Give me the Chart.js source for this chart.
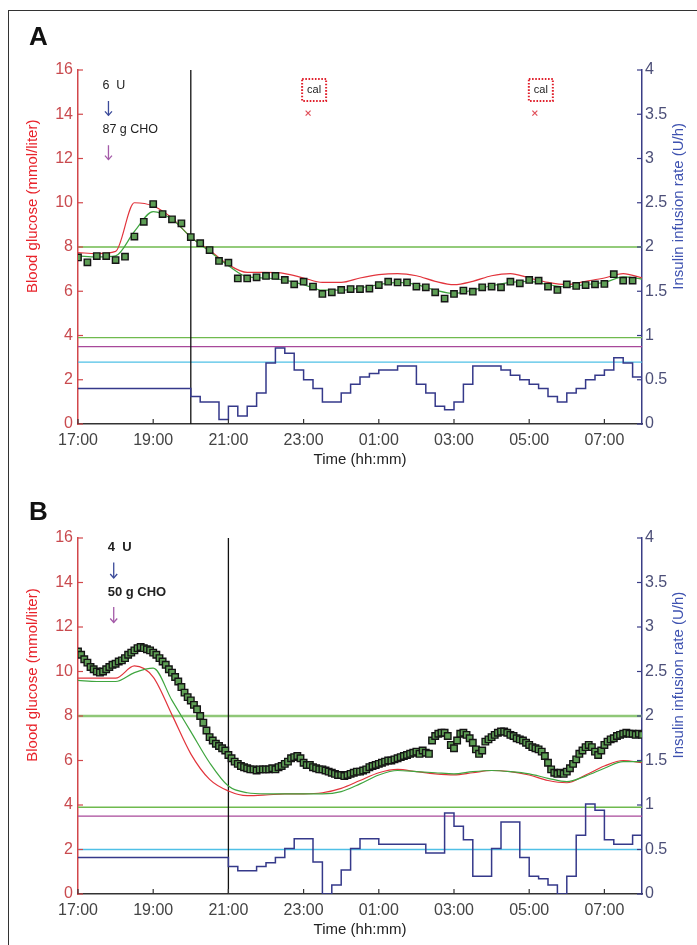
<!DOCTYPE html>
<html>
<head>
<meta charset="utf-8">
<title>Closed-loop overnight glucose</title>
<script src="https://cdn.jsdelivr.net/npm/chart.js@4.4.1/dist/chart.umd.min.js"></script>
<style>
  html, body { margin: 0; padding: 0; background: #fff; }
  body { width: 697px; height: 945px; position: relative; overflow: hidden; font-family: "Liberation Sans", Arial, sans-serif; }
  .frame { position: absolute; left: 8px; top: 10px; right: -4px; bottom: -4px; border-top: 1.5px solid #333; border-left: 1.5px solid #333; }
  .panel { position: absolute; left: 0; width: 697px; height: 475px; }
  .tag { position: absolute; left: 29px; font: bold 26px/1 "Liberation Sans", Arial, sans-serif; color: #111; }
</style>
</head>
<body>
<div class="frame"></div>
<div class="panel" style="top:0"><canvas id="chartA" width="697" height="475"></canvas></div>
<div class="panel" style="top:470px"><canvas id="chartB" width="697" height="475"></canvas></div>
<div class="tag" style="top:23px">A</div>
<div class="tag" style="top:498px">B</div>

<script>
// time is in hours from midnight of day 1 (25 = 01:00 next day)
const HOUR_START = 17, HOUR_END = 32;
const xTickHours = [17, 19, 21, 23, 25, 27, 29, 31];

// reference lines on glucose axis (mmol/l): target upper, target lower, hypo
const glucoseRefs = [8, 3.9, 3.5];
const CAL_MARK_Y = 14.05;

// ---- panel A ----
// sensor glucose, every 15 min from 17:00
const sensorA = [7.53, 7.31, 7.59, 7.59, 7.41, 7.56, 8.47, 9.14, 9.94, 9.49, 9.25, 9.07,
  8.45, 8.17, 7.86, 7.37, 7.29, 6.58, 6.58, 6.63, 6.69, 6.69, 6.51, 6.31,
  6.43, 6.21, 5.88, 5.95, 6.06, 6.10, 6.10, 6.12, 6.28, 6.43, 6.40, 6.40,
  6.21, 6.18, 5.95, 5.67, 5.88, 6.03, 5.98, 6.18, 6.21, 6.18, 6.43, 6.36,
  6.51, 6.48, 6.21, 6.06, 6.31, 6.24, 6.28, 6.31, 6.33, 6.77, 6.48, 6.48];
// model traces, every 30 min from 17:00
const redA = [7.75, 7.7, 7.8, 10.0, 9.85, 9.3, 8.45, 7.85, 7.2, 6.85, 6.85, 6.8, 6.6, 6.4, 6.4, 6.6,
  6.75, 6.8, 6.7, 6.45, 6.3, 6.45, 6.7, 6.8, 6.6, 6.4, 6.3, 6.45, 6.6, 6.8, 6.6];
const greenA = [7.6, 7.55, 7.6, 8.7, 9.6, 9.25, 8.45, 7.8, 7.15, 6.65, 6.6, 6.5, 6.3, 6.05, 6.05, 6.15,
  6.3, 6.4, 6.3, 6.05, 5.9, 6.05, 6.25, 6.4, 6.45, 6.3, 6.2, 6.3, 6.4, 6.65, 6.55];
// insulin (U/h): basal before loop start, then every 15 min
const basalA = 0.4;
const loopStartA = 20;
const insulinA = [0.31, 0.25, 0.25, 0.05, 0.20, 0.09, 0.20, 0.35, 0.69, 0.86, 0.80, 0.61,
  0.50, 0.40, 0.25, 0.25, 0.35, 0.45, 0.53, 0.57, 0.61, 0.61, 0.655, 0.655,
  0.45, 0.35, 0.20, 0.16, 0.25, 0.45, 0.655, 0.655, 0.655, 0.61, 0.55, 0.50,
  0.45, 0.40, 0.31, 0.25, 0.35, 0.40, 0.50, 0.55, 0.61, 0.75, 0.69, 0.53];
const insulinRefA = 0.7;
const calTimesA = [23.12, 29.15];

// ---- panel B ----
// sensor glucose, every 5 min from 17:00
const sensorB = [
  10.9, 10.75, 10.55, 10.4, 10.2, 10.1, 10.0, 9.95, 10.0, 10.1, 10.2, 10.3,
  10.35, 10.45, 10.5, 10.6, 10.75, 10.85, 10.95, 11.05, 11.1, 11.05, 11.0, 10.95,
  10.85, 10.75, 10.6, 10.45, 10.3, 10.1, 9.95, 9.75, 9.55, 9.3, 9.05, 8.85,
  8.7, 8.5, 8.3, 8.0, 7.7, 7.35, 7.05, 6.9, 6.75, 6.65, 6.55, 6.45,
  6.25, 6.1, 5.95, 5.85, 5.75, 5.7, 5.65, 5.6, 5.6, 5.55, 5.6, 5.6,
  5.6, 5.6, 5.65, 5.6, 5.7, 5.75, 5.85, 5.95, 6.1, 6.15, 6.2, 6.1,
  5.9, 5.8, 5.8, 5.7, 5.65, 5.6, 5.6, 5.55, 5.5, 5.45, 5.4, 5.35,
  5.35, 5.3, 5.35, 5.4, 5.45, 5.5, 5.5, 5.55, 5.6, 5.7, 5.75, 5.8,
  5.85, 5.9, 5.95, 6.0, 6.0, 6.05, 6.1, 6.15, 6.2, 6.25, 6.3, 6.35,
  6.4, 6.3, 6.45, 6.35, 6.3, 6.9, 7.1, 7.2, 7.25, 7.25, 7.1, 6.7,
  6.55, 6.9, 7.2, 7.25, 7.15, 7.0, 6.8, 6.5, 6.3, 6.45, 6.85, 6.95,
  7.05, 7.15, 7.25, 7.3, 7.3, 7.25, 7.15, 7.1, 7.0, 6.95, 6.9, 6.8,
  6.7, 6.6, 6.55, 6.5, 6.4, 6.2, 5.9, 5.6, 5.45, 5.4, 5.45, 5.4,
  5.5, 5.65, 5.85, 6.05, 6.3, 6.45, 6.6, 6.7, 6.6, 6.4, 6.25, 6.45,
  6.7, 6.85, 6.95, 7.0, 7.1, 7.15, 7.2, 7.25, 7.2, 7.2, 7.15, 7.2,
  7.15];
const redB = [9.7, 9.7, 9.7, 10.25, 9.75, 8.05, 6.3, 5.15, 4.63, 4.42, 4.45, 4.5, 4.5, 4.55, 4.75, 5.1,
  5.45, 5.6, 5.5, 5.4, 5.35, 5.45, 5.55, 5.5, 5.35, 5.1, 5.0, 5.35, 5.75, 6.0, 5.9];
const greenB = [9.6, 9.55, 9.55, 9.95, 10.15, 8.7, 7.3, 5.9, 4.85, 4.55, 4.5, 4.5, 4.5, 4.5, 4.6, 4.95,
  5.35, 5.55, 5.5, 5.45, 5.4, 5.5, 5.55, 5.5, 5.4, 5.2, 5.05, 5.3, 5.65, 5.95, 5.95];
const basalB = 0.41;
const loopStartB = 21;
const insulinB = [0.31, 0.26, 0.26, 0.31, 0.35, 0.41, 0.51, 0.62, 0.62, 0.36, 0, 0.10,
  0.27, 0.51, 0.62, 0.62, 0.56, 0.56, 0.56, 0.56, 0.56, 0.46, 0.46, 0.91,
  0.76, 0.61, 0.20, 0.20, 0.51, 0.81, 0.81, 0.41, 0.20, 0.17, 0.10, 0,
  0.20, 0.66, 1.01, 0.94, 0.61, 0.56, 0.56, 0.66];
const insulinRefB = 0.5;
const calTimesB = [];

const LEFT_TITLE = 'Blood glucose (mmol/liter)';
const RIGHT_TITLE = 'Insulin infusion rate (U/h)';
const LEFT_AXIS = '#d2474b';
const RIGHT_AXIS = '#3a3d86';

Chart.defaults.font.family = '"Liberation Sans", Arial, sans-serif';

function series(start, step, values) {
  return values.map((v, i) => ({ x: start + i * step, y: v }));
}

function insulinSteps(basal, loopStart, values) {
  const pts = [{ x: HOUR_START, y: basal }];
  values.forEach((v, i) => pts.push({ x: loopStart + i * 0.25, y: v }));
  pts.push({ x: HOUR_END, y: values[values.length - 1] });
  return pts;
}

function hline(v) {
  return [{ x: HOUR_START, y: v }, { x: HOUR_END, y: v }];
}

// MATLAB-like decorations: inward ticks, rotated titles, bolus notes, calibration boxes
const panelDecor = {
  id: 'panelDecor',
  afterDraw(chart, args, o) {
    const { ctx, chartArea: a } = chart;
    const sx = chart.scales.x, sy = chart.scales.y, s2 = chart.scales.y2;
    const seg = (x1, y1, x2, y2) => { ctx.beginPath(); ctx.moveTo(x1, y1); ctx.lineTo(x2, y2); ctx.stroke(); };
    ctx.save();

    ctx.lineWidth = 1.2;
    ctx.strokeStyle = LEFT_AXIS;
    sy.ticks.forEach(t => { const p = sy.getPixelForValue(t.value); seg(a.left, p, a.left + 5, p); });
    ctx.strokeStyle = RIGHT_AXIS;
    s2.ticks.forEach(t => { const p = s2.getPixelForValue(t.value); seg(a.right, p, a.right - 5, p); });
    ctx.strokeStyle = '#333';
    sx.ticks.forEach(t => { const p = sx.getPixelForValue(t.value); seg(p, a.bottom, p, a.bottom - 5); });

    const midY = a.top + 0.385 * (a.bottom - a.top);
    ctx.font = '15px "Liberation Sans", Arial, sans-serif';
    ctx.textAlign = 'center';
    ctx.textBaseline = 'middle';
    [[a.left - 45, LEFT_TITLE, '#e8232b'], [a.right + 37, RIGHT_TITLE, '#3e52b0']].forEach(([x, txt, c]) => {
      ctx.save();
      ctx.translate(x, midY);
      ctx.rotate(-Math.PI / 2);
      ctx.fillStyle = c;
      ctx.fillText(txt, 0, 0);
      ctx.restore();
    });

    const arrow = (x, ys, color) => {
      const y1 = sy.getPixelForValue(ys[0]), y2 = sy.getPixelForValue(ys[1]);
      ctx.strokeStyle = color;
      ctx.lineWidth = 1.3;
      seg(x, y1, x, y2);
      ctx.beginPath();
      ctx.moveTo(x - 3.5, y2 - 4);
      ctx.lineTo(x, y2);
      ctx.lineTo(x + 3.5, y2 - 4);
      ctx.stroke();
    };
    const n = o.bolus;
    ctx.font = n.font;
    ctx.textAlign = 'left';
    ctx.fillStyle = '#222';
    const tx = sx.getPixelForValue(n.textX), ax = sx.getPixelForValue(n.arrowX);
    ctx.fillText(n.dose, tx, sy.getPixelForValue(n.doseY));
    ctx.fillText(n.carbs, tx, sy.getPixelForValue(n.carbsY));
    arrow(ax, n.doseArrow, '#3b4a9a');
    arrow(ax, n.carbArrow, '#a45aa8');

    (o.cal || []).forEach(t => {
      const px = sx.getPixelForValue(t) + 6, py = sy.getPixelForValue(15.1);
      ctx.font = '11px "Liberation Sans", Arial, sans-serif';
      ctx.textAlign = 'center';
      ctx.fillStyle = '#222';
      ctx.fillText('cal', px, py);
      ctx.setLineDash([1.6, 1.6]);
      ctx.lineWidth = 2;
      ctx.strokeStyle = '#e0202c';
      ctx.strokeRect(px - 12, py - 11, 24, 22);
      ctx.setLineDash([]);
    });
    ctx.restore();
  }
};

function buildPanel(id, p) {
  const datasets = [
    { data: series(HOUR_START, p.sensorStep, p.sensor), showLine: false, pointStyle: 'rect',
      pointRadius: p.markerRadius, pointBackgroundColor: '#5e9e55', pointBorderColor: '#151515', pointBorderWidth: 1.4, yAxisID: 'y' },
    { data: p.cal.map(t => ({ x: t, y: CAL_MARK_Y })), showLine: false, pointStyle: 'crossRot',
      pointRadius: 3.5, pointBorderColor: '#e0505a', pointBorderWidth: 1.2, yAxisID: 'y' },
    { data: series(HOUR_START, 0.5, p.green), borderColor: '#3fa53f', borderWidth: 1.2,
      cubicInterpolationMode: 'monotone', yAxisID: 'y' },
    { data: series(HOUR_START, 0.5, p.red), borderColor: '#e2343c', borderWidth: 1.2,
      cubicInterpolationMode: 'monotone', yAxisID: 'y' },
    { data: insulinSteps(p.basal, p.loopStart, p.insulin), stepped: true, borderColor: '#35398a',
      borderWidth: 1.5, yAxisID: 'y2' },
    { data: [{ x: p.loopStart, y: 0 }, { x: p.loopStart, y: 16 }], borderColor: '#111', borderWidth: 1.3, yAxisID: 'y' },
    { data: hline(glucoseRefs[0]), borderColor: p.hiColor, borderWidth: p.hiWidth, yAxisID: 'y' },
    { data: hline(glucoseRefs[1]), borderColor: '#6fba4e', borderWidth: 1.3, yAxisID: 'y' },
    { data: hline(glucoseRefs[2]), borderColor: '#a8489a', borderWidth: 1.3, yAxisID: 'y' },
    { data: hline(p.insulinRef), borderColor: '#4fc0e6', borderWidth: 1.3, yAxisID: 'y2' }
  ];

  return new Chart(document.getElementById(id), {
    type: 'line',
    data: { datasets },
    options: {
      responsive: false,
      animation: false,
      layout: { padding: { top: p.padTop, left: 0, right: 0, bottom: 0 } },
      elements: { point: { radius: 0 }, line: { tension: 0 } },
      plugins: {
        legend: { display: false },
        tooltip: { enabled: false },
        panelDecor: { bolus: p.bolus, cal: p.cal }
      },
      scales: {
        x: {
          type: 'linear', min: HOUR_START, max: HOUR_END,
          afterBuildTicks: s => { s.ticks = xTickHours.map(v => ({ value: v })); },
          afterFit: s => { s.height = 51; },
          grid: { display: true, drawOnChartArea: false, drawTicks: false },
          border: { color: '#333', width: 1.5 },
          ticks: {
            autoSkip: false, maxRotation: 0, padding: 7, color: '#444', font: { size: 16 },
            callback: v => String(v % 24).padStart(2, '0') + ':00'
          },
          title: { display: true, text: 'Time (hh:mm)', color: '#222', font: { size: 15 }, padding: { top: 0, bottom: 6 } }
        },
        y: {
          position: 'left', min: 0, max: 16,
          afterFit: s => { s.width = 78; },
          grid: { display: true, drawOnChartArea: false, drawTicks: false },
          border: { color: LEFT_AXIS, width: 1.5 },
          ticks: { stepSize: 2, padding: 5, color: '#c94a4e', font: { size: 16 } }
        },
        y2: {
          position: 'right', min: 0, max: 4,
          afterFit: s => { s.width = 55; },
          grid: { display: true, drawOnChartArea: false, drawTicks: false },
          border: { color: RIGHT_AXIS, width: 1.5 },
          ticks: { stepSize: 0.5, padding: 3, color: '#4c4f78', font: { size: 16 }, callback: v => String(v) }
        }
      }
    },
    plugins: [panelDecor]
  });
}

buildPanel('chartA', {
  padTop: 70, sensor: sensorA, sensorStep: 0.25, markerRadius: 4.5, red: redA, green: greenA,
  basal: basalA, loopStart: loopStartA, insulin: insulinA, insulinRef: insulinRefA, cal: calTimesA,
  hiColor: '#6fba4e', hiWidth: 1.3,
  bolus: { font: '12.5px "Liberation Sans", Arial, sans-serif', textX: 17.65, arrowX: 17.81,
    dose: '6  U', doseY: 15.28, doseArrow: [14.6, 13.95], carbs: '87 g CHO', carbsY: 13.29, carbArrow: [12.6, 11.95] }
});

buildPanel('chartB', {
  padTop: 68, sensor: sensorB, sensorStep: 1 / 12, markerRadius: 4.6, red: redB, green: greenB,
  basal: basalB, loopStart: loopStartB, insulin: insulinB, insulinRef: insulinRefB, cal: calTimesB,
  hiColor: '#8fc777', hiWidth: 2.6,
  bolus: { font: 'bold 13px "Liberation Sans", Arial, sans-serif', textX: 17.79, arrowX: 17.95,
    dose: '4  U', doseY: 15.56, doseArrow: [14.9, 14.2], carbs: '50 g CHO', carbsY: 13.55, carbArrow: [12.9, 12.2] }
});
</script>
</body>
</html>
